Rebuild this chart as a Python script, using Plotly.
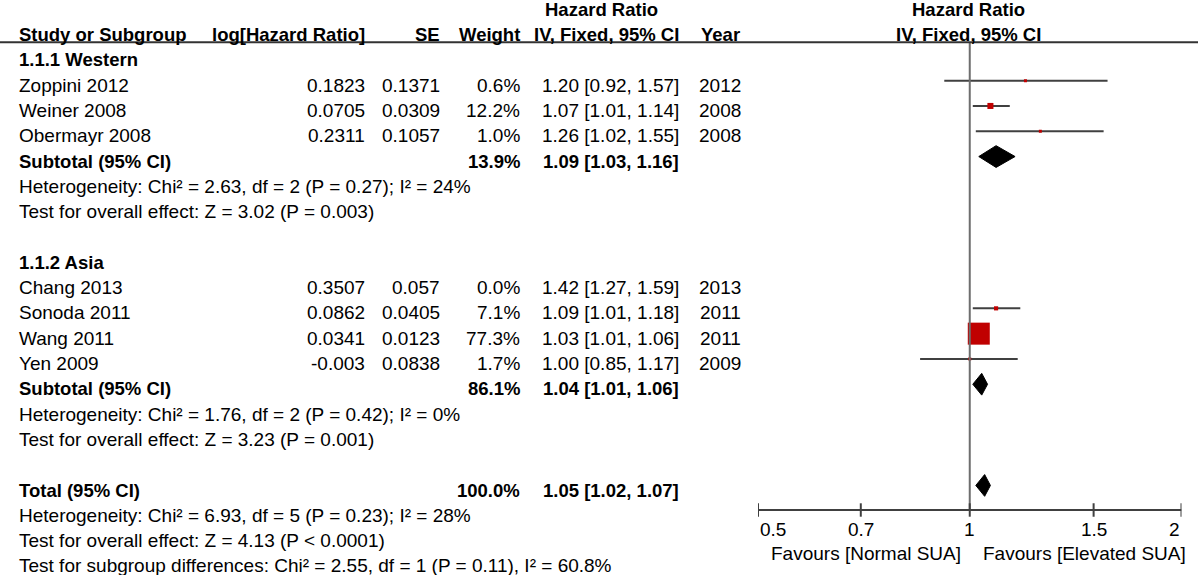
import math
import plotly.graph_objects as go

# --- Study level data ---
study_names = ["Zoppini 2012", "Weiner 2008", "Obermayr 2008",
               "Chang 2013", "Sonoda 2011", "Wang 2011", "Yen 2009"]
study_group = ["Western", "Western", "Western", "Asia", "Asia", "Asia", "Asia"]
log_hr = [0.1823, 0.0705, 0.2311, 0.3507, 0.0862, 0.0341, -0.003]
se = [0.1371, 0.0309, 0.1057, 0.057, 0.0405, 0.0123, 0.0838]
weight = [0.6, 12.2, 1.0, 0.0, 7.1, 77.3, 1.7]
hr = [1.20, 1.07, 1.26, 1.42, 1.09, 1.03, 1.00]
ci_low = [0.92, 1.01, 1.02, 1.27, 1.01, 1.01, 0.85]
ci_high = [1.57, 1.14, 1.55, 1.59, 1.18, 1.06, 1.17]
years = [2012, 2008, 2008, 2013, 2011, 2011, 2009]

# --- Subgroups ---
groups = ["Western", "Asia"]
group_labels = ["1.1.1 Western", "1.1.2 Asia"]
sub_weight = [13.9, 86.1]
sub_hr = [1.09, 1.04]
sub_low = [1.03, 1.01]
sub_high = [1.16, 1.06]
sub_het = ["Chi² = 2.63, df = 2 (P = 0.27); I² = 24%",
           "Chi² = 1.76, df = 2 (P = 0.42); I² = 0%"]
sub_z = ["Z = 3.02 (P = 0.003)", "Z = 3.23 (P = 0.001)"]

# --- Overall ---
total_weight = 100.0
total_hr = 1.05
total_low = 1.02
total_high = 1.07
total_het = "Chi² = 6.93, df = 5 (P = 0.23); I² = 28%"
total_z = "Z = 4.13 (P &lt; 0.0001)"
subgroup_diff = "Chi² = 2.55, df = 1 (P = 0.11), I² = 60.8%"

# --- Axis ---
tick_vals = [0.5, 0.7, 1, 1.5, 2]
tick_text = ["0.5", "0.7", "1", "1.5", "2"]
favours_left = "Favours [Normal SUA]"
favours_right = "Favours [Elevated SUA]"

# --- Layout constants (pixels) ---
W, H = 1200, 575
ROW0_PX, ROW_PX = 9.3, 25.3
FS = 19          # regular text
FS_B = 18.5      # bold text
FONT = "Liberation Sans, Arial, sans-serif"
MARK_SHIFT = -0.18          # marks sit a little above the text centre line
DIAMOND_HALF = 0.43
RED = "#c00000"
LINE = "#404040"

COL_STUDY, COL_LOGHR, COL_SE, COL_WEIGHT = 17, 367, 442, 522
COL_CI, COL_YEAR, COL_HR_HEAD = 681, 720, 601
COL_PLOT_HEAD = 968.5


def px_to_row(px):
    return (px - ROW0_PX) / ROW_PX


annotations = []


def text(x_px, row, s, anchor="left", bold=False):
    annotations.append(dict(
        x=x_px / W, xref="paper", y=row, yref="y",
        text=f"<b>{s}</b>" if bold else s,
        xanchor=anchor, yanchor="middle", showarrow=False,
        font=dict(size=FS_B if bold else FS, color="black", family=FONT),
    ))


def ci_text(h, lo, hi):
    return f"{h:.2f} [{lo:.2f}, {hi:.2f}]"


fig = go.Figure()
ci_x, ci_y, sq_x, sq_y, sq_size = [], [], [], [], []


def add_diamond(row, h, lo, hi):
    y = row + MARK_SHIFT
    fig.add_trace(go.Scatter(
        x=[lo, h, hi, h, lo],
        y=[y, y - DIAMOND_HALF, y, y + DIAMOND_HALF, y],
        mode="lines", fill="toself", fillcolor="black",
        line=dict(color="black", width=1), hoverinfo="skip",
    ))


# --- Header ---
text(COL_HR_HEAD, 0, "Hazard Ratio", "center", True)
text(COL_PLOT_HEAD, 0, "Hazard Ratio", "center", True)
text(COL_STUDY, 1, "Study or Subgroup", bold=True)
text(COL_LOGHR, 1, "log[Hazard Ratio]", "right", True)
text(COL_SE, 1, "SE", "right", True)
text(COL_WEIGHT, 1, "Weight", "right", True)
text(COL_CI, 1, "IV, Fixed, 95% CI", "right", True)
text(COL_YEAR, 1, "Year", "center", True)
text(COL_PLOT_HEAD, 1, "IV, Fixed, 95% CI", "center", True)

# --- Body ---
row = 2
for gi, g in enumerate(groups):
    text(COL_STUDY, row, group_labels[gi], bold=True)
    row += 1
    for i, name in enumerate(study_names):
        if study_group[i] != g:
            continue
        text(COL_STUDY, row, name)
        text(COL_LOGHR, row, str(log_hr[i]), "right")
        text(COL_SE, row, str(se[i]), "right")
        text(COL_WEIGHT, row, f"{weight[i]:.1f}%", "right")
        text(COL_CI, row, ci_text(hr[i], ci_low[i], ci_high[i]), "right")
        text(COL_YEAR, row, str(years[i]), "center")
        if weight[i] > 0:
            y = row + MARK_SHIFT
            ci_x += [ci_low[i], ci_high[i], None]
            ci_y += [y, y, None]
            sq_x.append(hr[i])
            sq_y.append(y)
            sq_size.append(max(3, 22 * (weight[i] / max(weight)) ** 0.7))
        row += 1
    text(COL_STUDY, row, "Subtotal (95% CI)", bold=True)
    text(COL_WEIGHT, row, f"{sub_weight[gi]:.1f}%", "right", True)
    text(COL_CI, row, ci_text(sub_hr[gi], sub_low[gi], sub_high[gi]), "right", True)
    add_diamond(row, sub_hr[gi], sub_low[gi], sub_high[gi])
    row += 1
    text(COL_STUDY, row, "Heterogeneity: " + sub_het[gi])
    row += 1
    text(COL_STUDY, row, "Test for overall effect: " + sub_z[gi])
    row += 2

text(COL_STUDY, row, "Total (95% CI)", bold=True)
text(COL_WEIGHT, row, f"{total_weight:.1f}%", "right", True)
text(COL_CI, row, ci_text(total_hr, total_low, total_high), "right", True)
add_diamond(row, total_hr, total_low, total_high)
text(COL_STUDY, row + 1, "Heterogeneity: " + total_het)
text(COL_STUDY, row + 2, "Test for overall effect: " + total_z)
text(COL_STUDY, row + 3, "Test for subgroup differences: " + subgroup_diff)

# --- Forest marks ---
fig.add_trace(go.Scatter(x=ci_x, y=ci_y, mode="lines",
                         line=dict(color=LINE, width=2), hoverinfo="skip"))
fig.add_trace(go.Scatter(x=sq_x, y=sq_y, mode="markers",
                         marker=dict(symbol="square", size=sq_size, color=RED,
                                     opacity=1, line=dict(width=0)),
                         hoverinfo="skip"))

# line of no effect
axis_row = px_to_row(510)
fig.add_trace(go.Scatter(x=[1, 1], y=[px_to_row(42.3), axis_row], mode="lines",
                         line=dict(color="#6e6e6e", width=2), hoverinfo="skip"))

# --- Bottom axis ---
fig.add_trace(go.Scatter(x=[tick_vals[0], tick_vals[-1]], y=[axis_row, axis_row],
                         mode="lines", line=dict(color=LINE, width=2), hoverinfo="skip"))
tx, ty = [], []
for v in tick_vals:
    tx += [v, v, None]
    ty += [px_to_row(503.3), px_to_row(516.7), None]
fig.add_trace(go.Scatter(x=tx, y=ty, mode="lines",
                         line=dict(color=LINE, width=2), hoverinfo="skip"))
for k, (v, t) in enumerate(zip(tick_vals, tick_text)):
    anchor = "left" if k == 0 else ("right" if k == len(tick_vals) - 1 else "center")
    annotations.append(dict(x=math.log10(v), xref="x", y=px_to_row(529), yref="y",
                            text=t, xanchor=anchor, yanchor="middle", showarrow=False,
                            font=dict(size=FS, color="black", family=FONT)))
annotations.append(dict(x=0, xref="x", y=px_to_row(553), yref="y", text=favours_left,
                        xanchor="right", xshift=-7, yanchor="middle", showarrow=False,
                        font=dict(size=FS, color="black", family=FONT)))
annotations.append(dict(x=0, xref="x", y=px_to_row(553), yref="y", text=favours_right,
                        xanchor="left", xshift=11, yanchor="middle", showarrow=False,
                        font=dict(size=FS, color="black", family=FONT)))

# header rule
shapes = [dict(type="line", xref="paper", x0=0, x1=1198 / W, yref="y",
               y0=px_to_row(42.3), y1=px_to_row(42.3),
               line=dict(color="#333333", width=2))]

fig.update_layout(
    width=W, height=H,
    margin=dict(l=0, r=0, t=0, b=0),
    paper_bgcolor="white", plot_bgcolor="white",
    showlegend=False,
    hovermode=False,
    xaxis=dict(type="log", range=[math.log10(0.5), math.log10(2)],
               domain=[758 / W, 1181.5 / W], visible=False),
    yaxis=dict(range=[px_to_row(H), px_to_row(0)], domain=[0, 1], visible=False),
    annotations=annotations,
    shapes=shapes,
)

# page body has an 8px default margin; drop it so the figure fills the window
fig.write_html("out.html", config={"displayModeBar": False},
               post_script="document.body.style.margin = '0';")
